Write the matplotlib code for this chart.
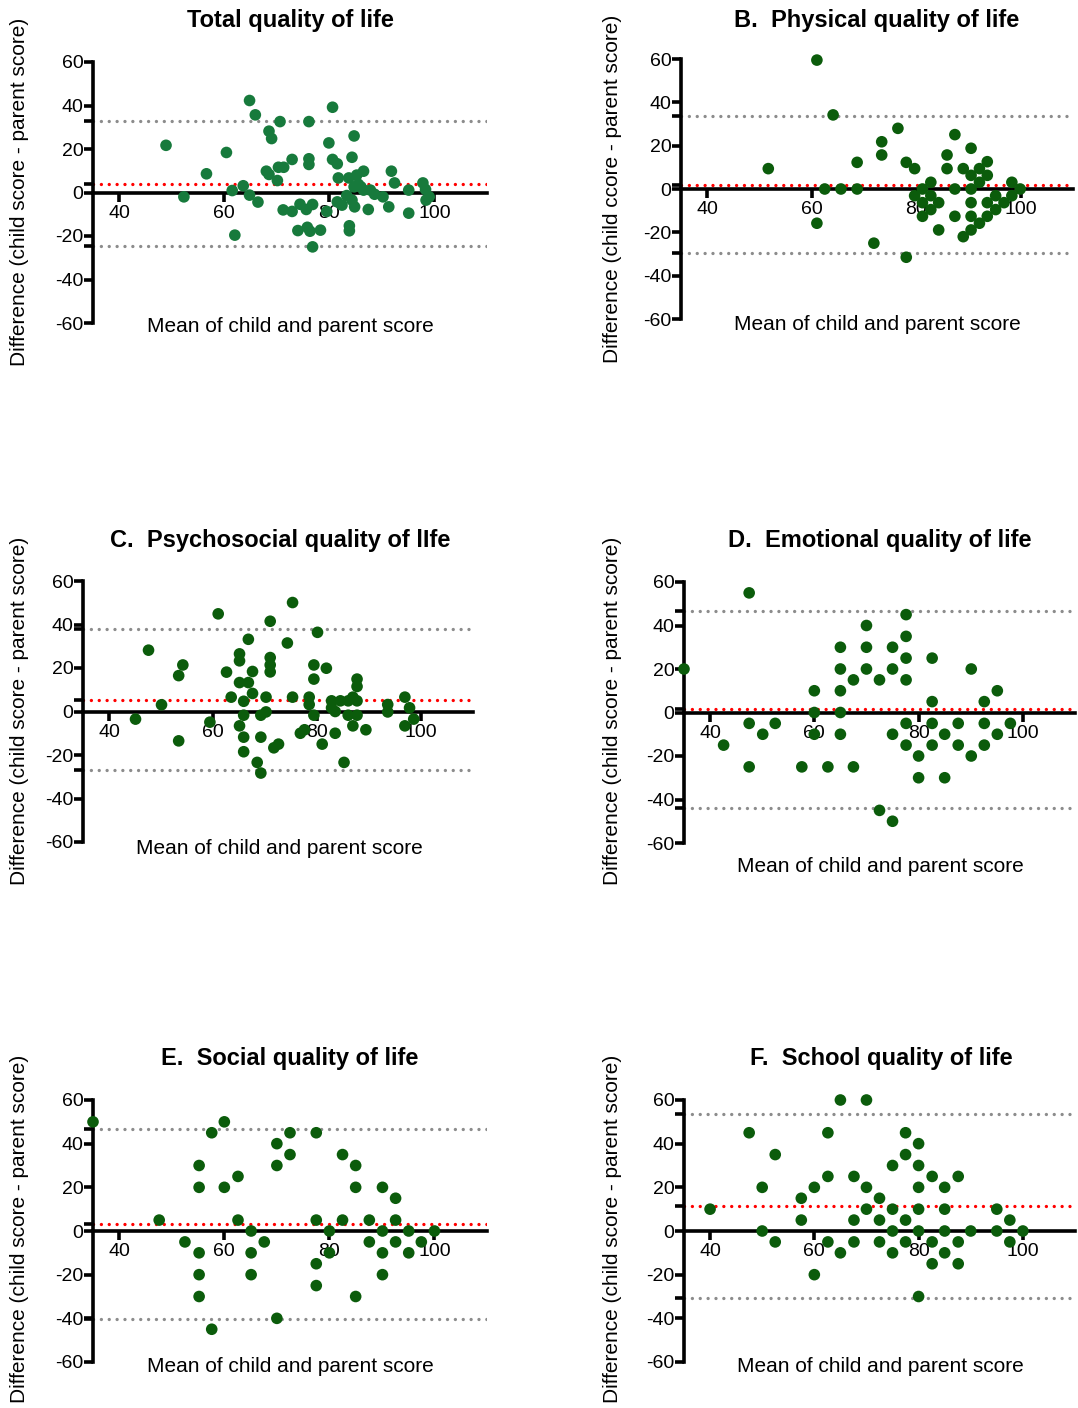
import numpy as np
import matplotlib
matplotlib.use('Agg')
import matplotlib.pyplot as plt

plt.rcParams['font.family'] = ['Liberation Sans', 'DejaVu Sans']
plt.rcParams['axes.unicode_minus'] = False

W, H = 1078, 1408

# ---- data ----
titles = [
    "Total quality of life",
    "B.  Physical quality of life",
    "C.  Psychosocial quality of lIfe",
    "D.  Emotional quality of life",
    "E.  Social quality of life",
    "F.  School quality of life",
]
ylabels = [
    "Difference (child score - parent score)",
    "Difference (child ccore - parent score)",
    "Difference (child score - parent score)",
    "Difference (child score - parent score)",
    "Difference (child score - parent score)",
    "Difference (child score - parent score)",
]
xlabel = "Mean of child and parent score"

# mean difference (red) and limits of agreement (grey)
means = [4.1, 1.8, 5.4, 1.8, 3.4, 11.3]
uppers = [32.9, 33.8, 37.8, 46.5, 46.7, 53.6]
lowers = [-24.5, -29.7, -27.1, -43.7, -40.3, -30.9]

a_x = [48.9, 52.3, 56.6, 60.4, 61.5, 62.0, 63.6, 64.8, 64.8, 65.9, 66.4, 68.0, 68.5, 68.5,
       69.0, 70.1, 70.3, 70.6, 71.2, 71.3, 72.9, 72.9, 74.0, 74.4, 75.6, 76.1, 76.1, 76.1,
       75.8, 76.3, 76.8, 76.8, 78.3, 79.5, 79.9, 80.6, 80.6, 81.5, 81.7, 81.5, 82.4, 83.3,
       83.7, 83.8, 83.8, 84.3, 84.7, 84.3, 84.8, 84.7, 85.2, 85.5, 86.0, 86.5, 86.5, 87.4,
       87.8, 88.6, 90.2, 91.3, 91.8, 92.4, 95.1, 95.1, 97.8, 98.3, 98.4, 99.0]
a_y = [21.7, -2.0, 8.6, 18.4, 0.9, -19.6, 3.1, -1.2, 42.3, 35.7, -4.4, 9.8, 8.3, 28.2,
       24.8, 5.5, 11.6, 32.6, -8.0, 11.6, 15.2, -8.7, -17.5, -5.4, -7.8, 15.5, 12.9, 32.6,
       -16.0, -17.8, -5.5, -25.0, -17.3, -8.7, 22.8, 39.2, 15.2, 13.2, 6.7, -4.3, -5.8, -1.4,
       6.7, -15.3, -17.6, 16.2, 26.0, -3.5, -6.6, 2.6, 8.0, 3.8, 2.6, 9.8, 1.1, -7.8,
       1.1, -0.8, -2.0, -6.6, 9.8, 4.4, 1.1, -9.5, 4.4, 1.4, -3.5, -2.0]

b_x = [51.7, 61.0, 61.0, 62.5, 64.1, 65.6, 68.7, 68.7, 71.9, 73.4, 73.4, 76.5, 78.1, 78.1,
       79.7, 79.7, 81.2, 81.2, 81.2, 82.8, 82.8, 82.8, 84.3, 84.3, 85.9, 85.9, 87.4, 87.4,
       87.4, 89.0, 89.0, 90.5, 90.5, 90.5, 90.5, 90.5, 90.5, 92.1, 92.1, 92.1, 93.6, 93.6,
       93.6, 93.6, 95.2, 95.2, 96.8, 98.3, 98.3, 99.9]
b_y = [9.4, 59.5, -15.8, 0.0, 34.2, 0.0, 12.3, 0.0, -25.0, 21.8, 15.7, 28.0, 12.3, -31.5,
       9.4, -3.1, 0.0, -6.3, -12.6, 3.1, -3.1, -9.5, -6.3, -18.9, 15.7, 9.4, 25.1, 0.0,
       -12.6, 9.4, -22.0, 18.8, 6.3, 0.0, -6.3, -12.6, -18.9, 9.4, 3.1, -15.8, 12.6, 6.3,
       -6.3, -12.6, -3.1, -9.5, -6.3, 3.1, -3.1, 0.0]

c_x = [45.1, 47.6, 50.1, 53.4, 53.4, 54.2, 59.4, 61.0, 62.6, 63.5, 65.1, 65.1, 65.1, 65.1,
       65.9, 65.9, 65.9, 65.9, 66.8, 66.8, 67.6, 67.6, 68.5, 69.2, 69.2, 69.2, 70.2, 70.2,
       71.0, 71.0, 71.0, 71.0, 71.7, 72.6, 74.3, 75.3, 75.3, 76.8, 77.6, 78.5, 78.5, 79.4,
       79.4, 79.4, 80.1, 81.0, 81.8, 82.8, 82.8, 83.5, 83.5, 84.5, 85.2, 86.0, 86.0, 86.9,
       86.9, 87.7, 87.7, 87.7, 87.7, 89.4, 93.6, 93.6, 96.9, 96.9, 97.8, 98.6]
c_y = [-3.5, 28.2, 3.1, 16.5, -13.5, 21.4, -4.9, 44.9, 18.1, 6.6, 26.5, 23.3, 13.3, -6.6,
       4.7, -1.7, -11.8, -18.5, 33.2, 13.3, 18.4, 8.3, -23.4, -28.3, -1.7, -11.8, 6.6, -0.2,
       41.5, 24.8, 21.4, 18.2, -16.7, -15.0, 31.5, 50.1, 6.6, -10.0, -8.4, 6.6, 3.2, 21.4,
       14.9, -1.7, 36.4, -15.0, 19.9, 4.9, 1.7, 0.0, -10.0, 4.9, -23.4, 4.9, -1.7, 6.6,
       -6.6, 14.9, 11.5, 4.9, -1.7, -8.4, 3.2, -0.2, 6.6, -6.6, 1.7, -3.5]

d_x = [35.0, 42.6, 47.5, 47.5, 47.5, 50.1, 52.5, 57.6, 60.0, 60.0, 60.0, 62.6, 65.0, 65.0,
       65.0, 65.0, 65.0, 67.5, 67.5, 70.0, 70.0, 70.0, 72.5, 72.5, 75.0, 75.0, 75.0, 75.0,
       77.6, 77.6, 77.6, 77.6, 77.6, 77.6, 80.0, 80.0, 82.6, 82.6, 82.6, 82.6, 85.0, 85.0,
       87.6, 87.6, 90.1, 90.1, 92.6, 92.6, 92.6, 95.1, 95.1, 97.6]
d_y = [20, -15, 55, -5, -25, -10, -5, -25, 10, 0, -10, -25, 30, 20,
       10, 0, -10, 15, -25, 40, 30, 20, 15, -45, 30, 20, -10, -50,
       45, 35, 25, 15, -5, -15, -20, -30, 25, 5, -5, -15, -10, -30,
       -5, -15, 20, -20, 5, -5, -15, 10, -10, -5]

e_x = [35.0, 47.6, 52.5, 55.2, 55.2, 55.2, 55.2, 55.2, 57.6, 57.6, 60.0, 60.0, 62.6, 62.6,
       65.1, 65.1, 65.1, 67.6, 70.0, 70.0, 70.0, 72.5, 72.5, 77.5, 77.5, 77.5, 77.5, 80.0,
       80.0, 82.5, 82.5, 85.0, 85.0, 85.0, 87.6, 87.6, 90.1, 90.1, 90.1, 90.1, 92.6, 92.6,
       92.6, 95.1, 95.1, 97.5, 100.0]
e_y = [50, 5, -5, 30, 20, -10, -20, -30, 45, -45, 50, 20, 25, 5,
       0, -10, -20, -5, 40, 30, -40, 45, 35, 45, 5, -15, -25, 0,
       -10, 35, 5, 30, 20, -30, 5, -5, 20, 0, -10, -20, 15, 5,
       -5, 0, -10, -5, 0]

f_x = [40.0, 47.5, 50.0, 50.0, 52.5, 52.5, 57.5, 57.5, 60.0, 60.0, 62.6, 62.6, 62.6, 65.0,
       65.0, 67.6, 67.6, 67.6, 70.0, 70.0, 70.0, 72.5, 72.5, 72.5, 75.0, 75.0, 75.0, 75.0,
       77.5, 77.5, 77.5, 77.5, 80.0, 80.0, 80.0, 80.0, 80.0, 80.0, 82.6, 82.6, 82.6, 85.0,
       85.0, 85.0, 85.0, 87.6, 87.6, 87.6, 90.0, 95.0, 95.0, 97.5, 97.5, 100.0]
f_y = [10, 45, 20, 0, 35, -5, 15, 5, 20, -20, 45, 25, -5, 60,
       -10, 25, 5, -5, 60, 20, 10, 15, 5, -5, 30, 10, 0, -10,
       45, 35, 5, -5, 40, 30, 20, 10, 0, -30, 25, -5, -15, 20,
       10, 0, -10, 25, -5, -15, 0, 10, 0, 5, -5, 0]

xs = [a_x, b_x, c_x, d_x, e_x, f_x]
ys = [a_y, b_y, c_y, d_y, e_y, f_y]
colors = ['#177a3c', '#0b5c0b', '#0b5c0b', '#0b5c0b', '#0b5c0b', '#0b5c0b']

# panel boxes in pixels: left, right, top (y=60), bottom (y=-60)
boxes = [(93, 487, 62, 323), (681, 1073, 59, 319),
         (83, 473, 581, 842), (684, 1075, 582, 843),
         (93, 487, 1100, 1362), (684, 1075, 1100, 1362)]
title_pos = [(290, 20), (877, 20), (280, 540), (880, 540), (290, 1058), (881, 1058)]
xlab_pos = [(290, 326), (877, 325), (279, 848), (880, 867), (290, 1366), (880, 1366)]
ylab_pos = [(20, 192), (612, 189), (20, 711), (612, 711), (20, 1229), (612, 1229)]

fig = plt.figure(figsize=(W / 100, H / 100), dpi=100)

for i in range(6):
    x0, x1, yt, yb = boxes[i]
    ax = fig.add_axes([x0 / W, 1 - yb / H, (x1 - x0) / W, (yb - yt) / H])
    ax.set_xlim(35, 110)
    ax.set_ylim(-60, 60)

    for s in ['top', 'right']:
        ax.spines[s].set_visible(False)
    ax.spines['left'].set_linewidth(2.6)
    ax.spines['bottom'].set_linewidth(2.6)
    ax.spines['bottom'].set_position(('data', 0))

    ax.set_xticks([40, 60, 80, 100])
    ax.set_yticks([-60, -40, -20, 0, 20, 40, 60])
    ax.set_yticks([lowers[i], means[i], uppers[i]], minor=True)
    ax.tick_params(axis='both', which='both', direction='out', length=6.5, width=2.6,
                   labelsize=14, colors='black')
    ax.tick_params(axis='y', which='major', pad=0.5)
    ax.tick_params(axis='x', which='major', pad=2.5)
    ax.tick_params(axis='x', which='minor', length=0)

    ax.plot([35, 110], [uppers[i], uppers[i]], color='#8c8c8c', lw=2.4,
            linestyle=(0, (0.01, 2.35)), dash_capstyle='round', zorder=2)
    ax.plot([35, 110], [lowers[i], lowers[i]], color='#8c8c8c', lw=2.4,
            linestyle=(0, (0.01, 2.35)), dash_capstyle='round', zorder=2)
    ax.plot([35, 110], [means[i], means[i]], color='#ff0000', lw=2.4,
            linestyle=(0, (0.01, 2.35)), dash_capstyle='round', zorder=2)

    ax.scatter(xs[i], ys[i], s=70, color=colors[i], edgecolors='none',
               zorder=4, clip_on=False)

    tx, ty = title_pos[i]
    fig.text(tx / W, 1 - ty / H, titles[i], ha='center', va='center',
             fontsize=17, fontweight='bold')
    lx, ly = xlab_pos[i]
    fig.text(lx / W, 1 - ly / H, xlabel, ha='center', va='center', fontsize=15)
    yx, yy = ylab_pos[i]
    fig.text(yx / W, 1 - yy / H, ylabels[i], ha='center', va='center',
             fontsize=15, rotation=90)

fig.savefig('out.png', dpi=100)
